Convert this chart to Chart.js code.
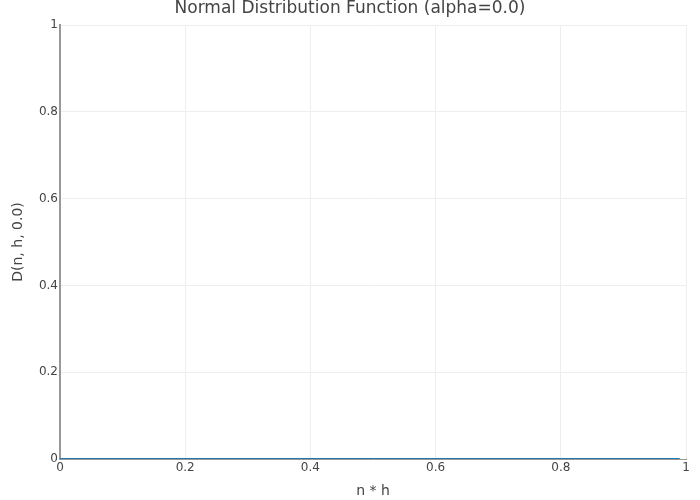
<!DOCTYPE html>
<html>
<head>
<meta charset="utf-8">
<script src="https://cdn.jsdelivr.net/npm/chart.js@4"></script>
<style>
  html, body { margin: 0; padding: 0; background: #fff; }
  #wrap { width: 700px; height: 500px; }
</style>
</head>
<body>
<div id="wrap"><canvas id="chart" width="700" height="500"></canvas></div>
<script>
// values: the curve sits flat on zero
const xValues = [0, 0.99];
const yValues = [0, 0];
const xTicks = [0, 0.2, 0.4, 0.6, 0.8, 1];
const yTicks = [0, 0.2, 0.4, 0.6, 0.8, 1];

const chartTitle = 'Normal Distribution Function (alpha=0.0)';
const xTitle = 'n * h';
const yTitle = 'D(n, h, 0.0)';

const FONT = "'DejaVu Sans', sans-serif";

const titlePlugin = {
    id: 'topTitle',
    afterDraw(chart) {
        const c = chart.ctx;
        c.save();
        c.fillStyle = '#444';
        c.font = '17px ' + FONT;
        c.textAlign = 'center';
        c.textBaseline = 'middle';
        c.fillText(chartTitle, 350, 9);
        c.restore();
    }
};

new Chart(document.getElementById('chart'), {
    type: 'line',
    data: {
        datasets: [{
            data: xValues.map((x, i) => ({x: x, y: yValues[i]})),
            borderColor: '#1f77b4',
            borderWidth: 2,
            pointRadius: 0,
            fill: false
        }]
    },
    options: {
        responsive: false,
        animation: false,
        layout: {padding: {top: 25, right: 14, left: 0, bottom: 0}},
        plugins: {
            legend: {display: false},
            tooltip: {enabled: false}
        },
        scales: {
            x: {
                type: 'linear',
                min: 0,
                max: 1,
                afterBuildTicks: s => { s.ticks = xTicks.map(v => ({value: v})); },
                afterFit: s => { s.height = 41; },
                ticks: {
                    color: '#444',
                    font: {family: FONT, size: 12},
                    padding: 2,
                    maxRotation: 0,
                    callback: v => String(v)
                },
                grid: {color: '#eee', drawTicks: false},
                border: {color: '#999', width: 1},
                title: {
                    display: true,
                    text: xTitle,
                    color: '#444',
                    font: {family: FONT, size: 14},
                    padding: {top: 8, bottom: 0}
                }
            },
            y: {
                type: 'linear',
                min: 0,
                max: 1,
                afterBuildTicks: s => { s.ticks = yTicks.map(v => ({value: v})); },
                afterFit: s => { s.width = 60; },
                ticks: {
                    color: '#444',
                    font: {family: FONT, size: 12},
                    padding: 2,
                    callback: v => String(v)
                },
                grid: {color: '#eee', drawTicks: false},
                border: {color: '#999', width: 2},
                title: {
                    display: true,
                    text: yTitle,
                    color: '#444',
                    font: {family: FONT, size: 14},
                    padding: {top: 10, bottom: 4}
                }
            }
        }
    },
    plugins: [titlePlugin]
});
</script>
</body>
</html>
